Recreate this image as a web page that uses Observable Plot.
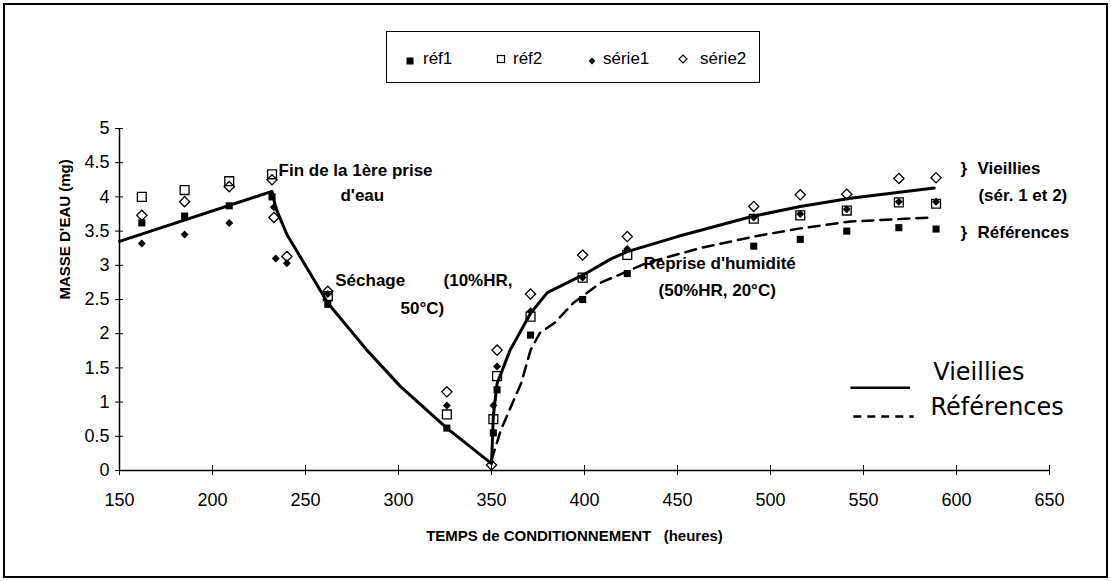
<!DOCTYPE html>
<html><head><meta charset="utf-8">
<script src="https://cdn.jsdelivr.net/npm/d3@7"></script>
<script src="https://cdn.jsdelivr.net/npm/@observablehq/plot@0.6"></script>
<style>
body{margin:0;background:#fff;}
#wrap{position:relative;width:1111px;height:581px;overflow:hidden;font-family:"Liberation Sans",Arial,sans-serif;background:#fff;}
#frame{position:absolute;left:3px;top:3px;width:1101px;height:571px;border:2px solid #000;pointer-events:none;}
#legend{position:absolute;left:386px;top:31px;width:372px;height:50px;border:1.5px solid #000;background:#fff;}
.lg{position:absolute;top:17px;font-size:17px;line-height:20px;color:#000;white-space:nowrap;}
.sym{position:absolute;top:20px;}
#chart{position:absolute;left:0;top:0;}
</style></head>
<body>
<div id="wrap">
  <div id="chart"></div>
  <div id="legend"></div>
  <div id="frame"></div>
</div>
<script>
// ---- data ----
const xTicks = [150,200,250,300,350,400,450,500,550,600,650];
const yTicks = [0,0.5,1,1.5,2,2.5,3,3.5,4,4.5,5];

const ref1X = [162,185,209,232,262,326,351,353,371,399,423,491,516,541,569,589];
const ref1Y = [3.62,3.72,3.87,4.00,2.43,0.62,0.55,1.18,1.98,2.50,2.88,3.28,3.38,3.50,3.55,3.53];
const ref2X = [162,185,209,232,262,326,351,353,371,399,423,491,516,541,569,589];
const ref2Y = [4.00,4.10,4.23,4.33,2.55,0.82,0.75,1.38,2.25,2.82,3.15,3.68,3.73,3.80,3.92,3.90];
const serie1X = [162,185,209,233,234,240,262,326,351,353,371,399,423,491,516,541,569,589];
const serie1Y = [3.32,3.45,3.62,3.85,3.10,3.03,2.58,0.95,0.95,1.52,2.33,2.82,3.24,3.70,3.75,3.82,3.93,3.93];
const serie2X = [162,185,209,232,233,240,262,326,350,353,371,399,423,491,516,541,569,589];
const serie2Y = [3.73,3.93,4.15,4.25,3.70,3.13,2.62,1.15,0.08,1.76,2.58,3.15,3.42,3.86,4.03,4.04,4.27,4.28];

const vieilliesX = [150,232,234,240,249,262,283,301,326,350,351,353,360,371,380,400,414,423,450,491,516,543,588];
const vieilliesY = [3.35,4.08,3.84,3.45,3.04,2.45,1.76,1.23,0.62,0.10,0.80,1.27,1.76,2.30,2.60,2.87,3.09,3.20,3.42,3.72,3.86,3.98,4.13];
const referencesX = [350,355,362,366,371,376,384,394,409,422,434,462,491,516,543,587];
const referencesY = [0.15,0.59,1.03,1.28,1.76,2.01,2.16,2.45,2.75,2.90,3.04,3.25,3.42,3.54,3.64,3.70];

const legendNames = ["réf1","réf2","série1","série2"];

const noteText = ["Fin de la 1ère prise","d'eau","Séchage","(10%HR,","50°C)","Reprise d'humidité","(50%HR, 20°C)","}","Vieillies","(sér. 1 et 2)","}","Références"];
const noteX = [235.5,268.8,266,324.2,301.1,431.7,439.8,602.2,611.3,611.8,602.2,611.3];
const noteY = [4.39,4.02,2.78,2.78,2.37,3.03,2.63,4.42,4.42,4.02,3.48,3.48];

const handText = ["Vieillies","Références"];
const handX1 = [543,544.5];
const handX2 = [575,577];
const handY = [1.21,0.79];
const handTextX = [587.5,586];
const handTextY = [1.43,0.92];

// ---- build ----
const pts = (xs, ys) => xs.map((x, i) => ({x, y: ys[i]}));
const ref1 = pts(ref1X, ref1Y), ref2 = pts(ref2X, ref2Y);
const s1 = pts(serie1X, serie1Y), s2 = pts(serie2X, serie2Y);
const vieil = pts(vieilliesX, vieilliesY), refs = pts(referencesX, referencesY);
const notes = noteText.map((t, i) => ({t, x: noteX[i], y: noteY[i]}));
const hand = handText.map((t, i) => ({t, x1: handX1[i], x2: handX2[i], y: handY[i], tx: handTextX[i], ty: handTextY[i]}));

const font = "'Liberation Sans', Arial, sans-serif";
const chart = Plot.plot({
  width: 1111, height: 581,
  marginLeft: 119, marginRight: 62, marginTop: 128, marginBottom: 111,
  style: {fontFamily: font, fontSize: "18px", background: "transparent", color: "#000", overflow: "visible"},
  x: {domain: [150, 650]},
  y: {domain: [0, 5]},
  marks: [
    Plot.ruleY([0], {stroke: "#000", strokeWidth: 1.5}),
    Plot.ruleX([150], {stroke: "#000", strokeWidth: 1.5}),
    Plot.axisX({ticks: xTicks, tickSize: 5, tickPadding: 18, label: null, fontSize: 18, tickFormat: d => String(d), stroke: "#000"}),
    Plot.axisX({ticks: xTicks, tickSize: -5, tickFormat: () => "", label: null, stroke: "#000"}),
    Plot.axisY({ticks: yTicks, tickSize: 4, tickPadding: 6, label: null, fontSize: 18, tickFormat: d => String(d), stroke: "#000"}),
    Plot.axisY({ticks: yTicks, tickSize: -4, tickFormat: () => "", label: null, stroke: "#000"}),
    Plot.text(["MASSE D'EAU (mg)"], {frameAnchor: "left", rotate: -90, dx: -54, fontSize: 15, fontWeight: "bold"}),
    Plot.text(["TEMPS de CONDITIONNEMENT\u00a0\u00a0\u00a0(heures)"], {frameAnchor: "bottom", dy: 70, dx: -10, fontSize: 15, fontWeight: "bold"}),
    Plot.line(vieil, {x: "x", y: "y", stroke: "#000", strokeWidth: 3}),
    Plot.line(refs, {x: "x", y: "y", stroke: "#000", strokeWidth: 2.5, strokeDasharray: "11,7"}),
    Plot.dot(ref1, {x: "x", y: "y", symbol: "square", r: 4, fill: "#000"}),
    Plot.dot(ref2, {x: "x", y: "y", symbol: "square", r: 5, fill: "none", stroke: "#000", strokeWidth: 1.3}),
    Plot.dot(s1, {x: "x", y: "y", symbol: "diamond2", r: 3.6, fill: "#000"}),
    Plot.dot(s2, {x: "x", y: "y", symbol: "diamond2", r: 4.6, fill: "none", stroke: "#000", strokeWidth: 1.3}),
    Plot.text(notes, {x: "x", y: "y", text: "t", textAnchor: "start", fontSize: 17, fontWeight: "bold"}),
    Plot.link(hand.slice(0, 1), {x1: "x1", x2: "x2", y1: "y", y2: "y", stroke: "#000", strokeWidth: 2.5}),
    Plot.link(hand.slice(1), {x1: "x1", x2: "x2", y1: "y", y2: "y", stroke: "#000", strokeWidth: 2.5, strokeDasharray: "8,6"}),
    Plot.text(hand, {x: "tx", y: "ty", text: "t", textAnchor: "start", fontSize: 24, fontFamily: "'DejaVu Sans', sans-serif"})
  ]
});
document.getElementById("chart").appendChild(chart);

// legend
const lg = document.getElementById("legend");
const symSvg = [
  '<svg width="10" height="10"><rect x="1.5" y="1.5" width="7" height="7" fill="#000"/></svg>',
  '<svg width="10" height="10"><rect x="1.5" y="1.5" width="7" height="7" fill="none" stroke="#000" stroke-width="1.2"/></svg>',
  '<svg width="10" height="10"><path d="M5,1.5L8.5,5L5,8.5L1.5,5Z" fill="#000"/></svg>',
  '<svg width="10" height="10"><path d="M5,1L9,5L5,9L1,5Z" fill="none" stroke="#000" stroke-width="1.2"/></svg>'
];
const symLeft = [18, 109, 200, 291];
const txtLeft = [36, 126, 216, 313];
legendNames.forEach((n, i) => {
  const s = document.createElement("div");
  s.className = "sym"; s.style.left = symLeft[i] + "px"; s.style.top = (i % 2 ? 18 : 20) + "px";
  s.innerHTML = symSvg[i]; lg.appendChild(s);
  const t = document.createElement("div");
  t.className = "lg"; t.style.left = txtLeft[i] + "px"; t.textContent = n; lg.appendChild(t);
});
</script>
</body></html>
